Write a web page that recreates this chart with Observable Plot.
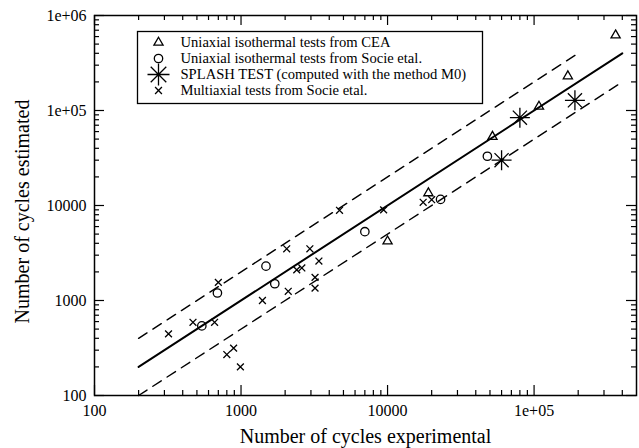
<!DOCTYPE html>
<html><head><meta charset="utf-8">
<script src="https://cdn.jsdelivr.net/npm/d3@7"></script>
<script src="https://cdn.jsdelivr.net/npm/@observablehq/plot@0.6"></script>
<style>body{margin:0;background:#fff}</style>
</head><body><div id="chart"></div>
<script>
// Uniaxial isothermal tests from CEA
const ceaX = [10000, 19000, 52000, 108000, 170000, 360000];
const ceaY = [4200, 13500, 53000, 110000, 230000, 620000];
// Uniaxial isothermal tests from Socie etal.
const socX = [540, 690, 1480, 1700, 7000, 23000, 48000];
const socY = [540, 1200, 2300, 1500, 5300, 11600, 33000];
// SPLASH TEST
const splX = [60000, 80000, 190000];
const splY = [30000, 84000, 128000];
// Multiaxial tests from Socie etal.
const mulX = [320, 470, 660, 700, 800, 890, 990, 1400, 2050, 2100, 2400, 2600, 2950, 3200, 3200, 3400, 4700, 9400, 17500, 20000];
const mulY = [445, 590, 590, 1550, 270, 315, 200, 1000, 3500, 1250, 2100, 2200, 3500, 1750, 1350, 2600, 8900, 9000, 10800, 11500];
// reference lines
const solidX = [200, 400000], solidY = [200, 400000];
const upperX = [200, 200000], upperY = [400, 400000];
const lowerX = [200, 400000], lowerY = [100, 200000];
// ticks
const xTicks = [100, 1000, 10000, 100000];
const xTickLabels = ["100", "1000", "10000", "1e+05"];
const yTicks = [100, 1000, 10000, 100000, 1000000];
const yTickLabels = ["100", "1000", "10000", "1e+05", "1e+06"];
const xMinor = [], yMinor = [];
for (const dec of [100, 1000, 10000, 100000]) for (let k = 2; k <= 9; k++) { if (dec * k < 500000) xMinor.push(dec * k); }
for (const dec of [100, 1000, 10000, 100000]) for (let k = 2; k <= 9; k++) yMinor.push(dec * k);
const legendLabels = [
  "Uniaxial isothermal tests from CEA",
  "Uniaxial isothermal tests from Socie etal.",
  "SPLASH TEST (computed with the method M0)",
  "Multiaxial tests from Socie etal."
];

const zip = (xs, ys) => xs.map((x, i) => ({x, y: ys[i]}));
const star8 = {draw(ctx, size) {
  const r = Math.sqrt(size / Math.PI), d = r * Math.SQRT1_2;
  ctx.moveTo(-r, 0); ctx.lineTo(r, 0);
  ctx.moveTo(0, -r); ctx.lineTo(0, r);
  ctx.moveTo(-d, -d); ctx.lineTo(d, d);
  ctx.moveTo(-d, d); ctx.lineTo(d, -d);
}};

const W = 639, H = 448, mL = 94, mR = 3, mT = 15, mB = 53;
const fh = H - mT - mB, fw = W - mL - mR;
const symbols = [
  {symbol: "triangle", r: 3.4},
  {symbol: "circle", r: 4.2},
  {symbol: star8, r: 11},
  {symbol: "times", r: 3.2}
];
const legTop = 31, legBottom = 103, legLeft = 137, legRight = 482;
const rowY = [42, 58, 74, 90];

const legendMarks = [];
legendLabels.forEach((lab, i) => {
  legendMarks.push(Plot.dot([lab], {frameAnchor: "top-left", dx: 158 - mL, dy: rowY[i] - mT,
    symbol: symbols[i].symbol, r: symbols[i].r, stroke: "black", fill: "none", strokeWidth: 1.3}));
  legendMarks.push(Plot.text([lab], {text: d => d, frameAnchor: "top-left", dx: 180 - mL, dy: rowY[i] - mT,
    textAnchor: "start", lineAnchor: "middle", fontSize: 14.6, fill: "black"}));
});

const xLab = new Map(xTicks.map((t, i) => [t, xTickLabels[i]]));
const yLab = new Map(yTicks.map((t, i) => [t, yTickLabels[i]]));

const chart = Plot.plot({
  width: W, height: H,
  marginLeft: mL, marginRight: mR, marginTop: mT, marginBottom: mB,
  style: {fontFamily: "'Liberation Serif', 'Times New Roman', serif", background: "white", color: "black"},
  x: {type: "log", domain: [100, 500000]},
  y: {type: "log", domain: [100, 1000000]},
  marks: [
    Plot.line(zip(upperX, upperY), {x: "x", y: "y", stroke: "black", strokeWidth: 1.4, strokeDasharray: "10,7"}),
    Plot.line(zip(lowerX, lowerY), {x: "x", y: "y", stroke: "black", strokeWidth: 1.4, strokeDasharray: "10,7"}),
    Plot.line(zip(solidX, solidY), {x: "x", y: "y", stroke: "black", strokeWidth: 2}),
    Plot.dot(zip(ceaX, ceaY), {x: "x", y: "y", symbol: "triangle", r: 3.4, stroke: "black", fill: "none", strokeWidth: 1.3}),
    Plot.dot(zip(socX, socY), {x: "x", y: "y", symbol: "circle", r: 4.2, stroke: "black", fill: "none", strokeWidth: 1.3}),
    Plot.dot(zip(splX, splY), {x: "x", y: "y", symbol: star8, r: 10, stroke: "black", fill: "none", strokeWidth: 1.3}),
    Plot.dot(zip(mulX, mulY), {x: "x", y: "y", symbol: "times", r: 3.2, stroke: "black", fill: "none", strokeWidth: 1.3}),
    // ticks inward on all sides
    Plot.tickX(xTicks, {x: d => d, insetTop: fh - 10, stroke: "black", strokeWidth: 1.2}),
    Plot.tickX(xTicks, {x: d => d, insetBottom: fh - 10, stroke: "black", strokeWidth: 1.2}),
    Plot.tickX(xMinor, {x: d => d, insetTop: fh - 5, stroke: "black", strokeWidth: 1.2}),
    Plot.tickX(xMinor, {x: d => d, insetBottom: fh - 5, stroke: "black", strokeWidth: 1.2}),
    Plot.tickY(yTicks, {y: d => d, insetRight: fw - 10, stroke: "black", strokeWidth: 1.2}),
    Plot.tickY(yTicks, {y: d => d, insetLeft: fw - 10, stroke: "black", strokeWidth: 1.2}),
    Plot.tickY(yMinor, {y: d => d, insetRight: fw - 5, stroke: "black", strokeWidth: 1.2}),
    Plot.tickY(yMinor, {y: d => d, insetLeft: fw - 5, stroke: "black", strokeWidth: 1.2}),
    Plot.axisX({ticks: xTicks, tickSize: 0, tickPadding: 9, tickFormat: d => xLab.get(d), fontSize: 16, label: null, fill: "black"}),
    Plot.axisY({ticks: yTicks, tickSize: 0, tickPadding: 8, tickFormat: d => yLab.get(d), fontSize: 16, label: null, fill: "black"}),
    Plot.text(["Number of cycles experimental"], {text: d => d, frameAnchor: "bottom", dy: 41, textAnchor: "middle", lineAnchor: "middle", fontSize: 20, fill: "black"}),
    Plot.text(["Number of cycles estimated"], {text: d => d, frameAnchor: "left", dx: -72, dy: 6, rotate: -90, textAnchor: "middle", lineAnchor: "middle", fontSize: 20, fill: "black"}),
    Plot.frame({stroke: "black", strokeWidth: 1.5}),
    Plot.frame({insetLeft: legLeft - mL, insetTop: legTop - mT, insetRight: W - mR - legRight, insetBottom: H - mB - legBottom, stroke: "black", fill: "white", strokeWidth: 1.3}),
    ...legendMarks
  ]
});
document.getElementById("chart").append(chart);
</script>
</body></html>
